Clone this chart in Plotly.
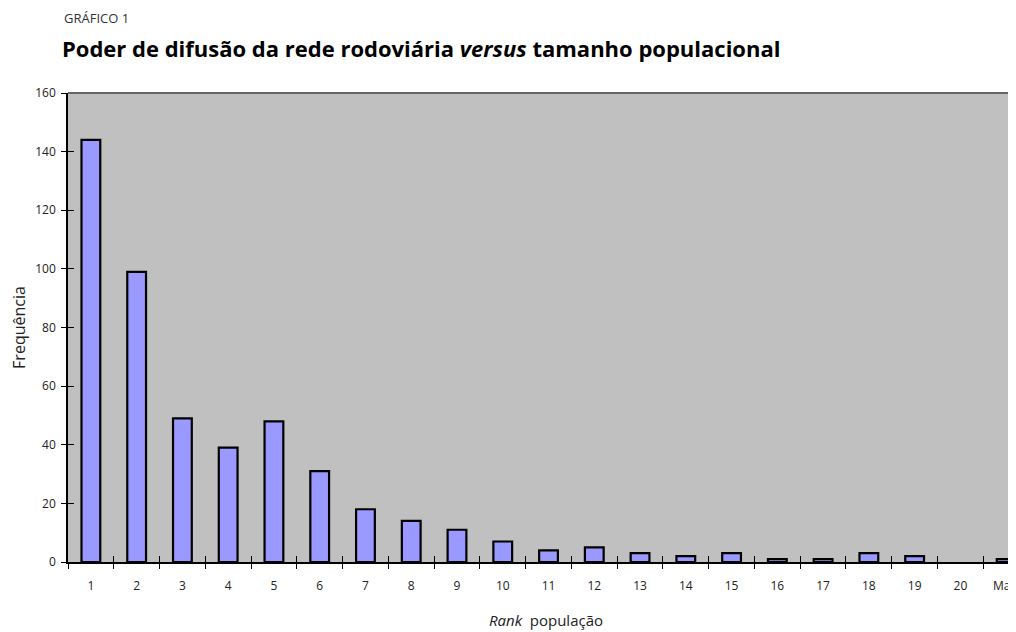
import plotly.graph_objects as go

categories = [str(i) for i in range(1, 21)] + ["Mais"]
frequencia = [144, 99, 49, 39, 48, 31, 18, 14, 11, 7, 4, 5, 3, 2, 3, 1, 1, 3, 2, 0, 1]

FONT = "Open Sans"
TXT = "#222"

fig = go.Figure()
fig.add_trace(go.Bar(
    x=categories, y=frequencia,
    marker=dict(color="#9999FF",
                line=dict(color="black", width=[2.2 if v > 0 else 0 for v in frequencia])),
    width=0.41,
))
# invisible helper trace carrying the outer halves of the crossing ticks
fig.add_trace(go.Scatter(x=categories, y=frequencia, xaxis="x2", yaxis="y2",
                         mode="markers", marker=dict(opacity=0), hoverinfo="skip"))

common_tick = dict(ticklen=6, tickcolor="black", tickwidth=1)
XR = [-0.5, 20.39]

fig.update_layout(
    width=1016, height=632,
    margin=dict(l=60, r=0, t=85, b=78),
    paper_bgcolor="white",
    plot_bgcolor="#C0C0C0",
    showlegend=False,
    font=dict(family=FONT, size=12, color=TXT),
    xaxis=dict(
        type="category", range=XR,
        showline=True, linecolor="black", linewidth=1.5,
        ticks="inside", tickson="boundaries", **common_tick,
        showgrid=False, zeroline=False,
        tickfont=dict(size=12, color=TXT),
        ticklabelstandoff=12,
        title=dict(text="<i>Rank</i>  população", font=dict(size=15, color=TXT), standoff=22),
    ),
    xaxis2=dict(
        type="category", overlaying="x", anchor="y", side="bottom", range=XR,
        ticks="outside", tickson="boundaries", **common_tick,
        showticklabels=False, showgrid=False, zeroline=False, showline=False,
    ),
    yaxis=dict(
        range=[0, 160], dtick=20,
        showline=True, linecolor="black", linewidth=1.5,
        ticks="inside", **common_tick,
        showgrid=False, zeroline=False,
        tickfont=dict(size=12, color=TXT),
        ticklabelstandoff=8,
        title=dict(text="Frequência", font=dict(size=16, color=TXT), standoff=8),
    ),
    yaxis2=dict(
        range=[0, 160], dtick=20, overlaying="y", anchor="x", side="left",
        ticks="outside", **common_tick,
        showticklabels=False, showgrid=False, zeroline=False, showline=False,
    ),
)

# plot area border (top)
fig.add_shape(type="line", xref="paper", yref="paper", x0=0, x1=1, y0=1, y1=1,
              line=dict(color="#666666", width=2))

fig.add_annotation(text="GRÁFICO 1", xref="paper", yref="paper",
                   x=-6/956, y=1 + (93 - 18) / 469, xanchor="left", yanchor="middle",
                   showarrow=False, font=dict(family=FONT, size=13, color="#333"))
fig.add_annotation(text="<b>Poder de difusão da rede rodoviária <i>versus</i> tamanho populacional</b>",
                   xref="paper", yref="paper",
                   x=-8/956, y=1 + (93 - 48) / 469, xanchor="left", yanchor="middle",
                   showarrow=False, font=dict(family=FONT, size=22, color="black"))

fig.write_html("out.html")
